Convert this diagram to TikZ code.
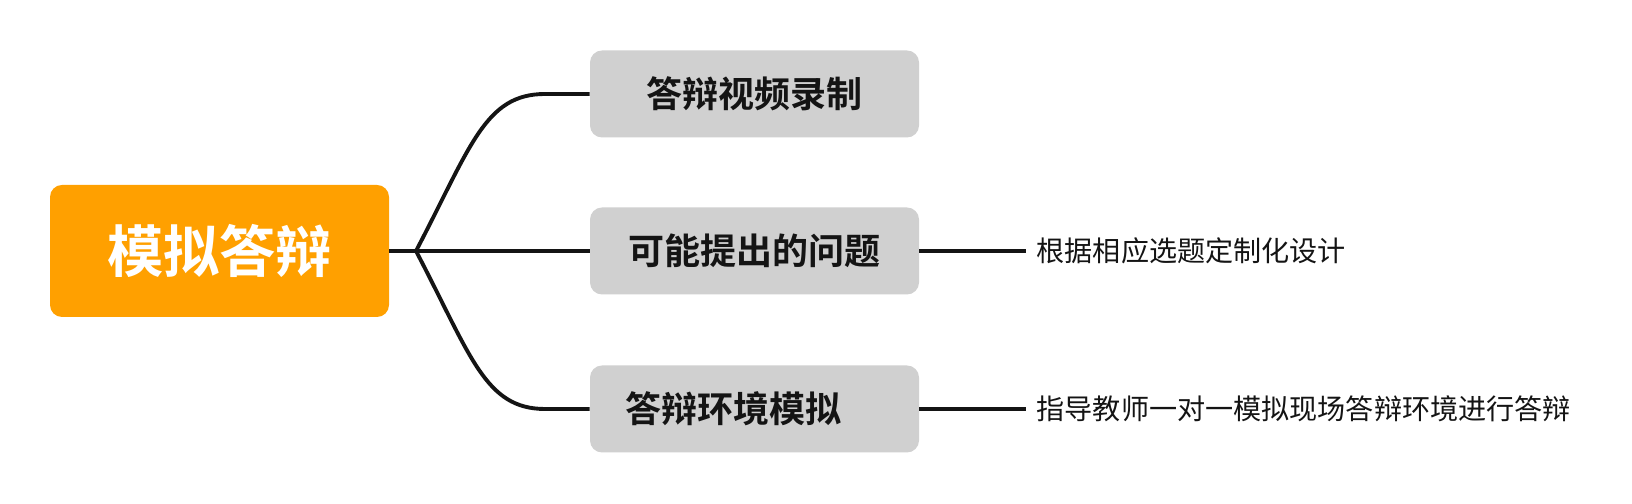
\documentclass[tikz,border=0pt]{standalone}
\usepackage{fontspec}
\usetikzlibrary{positioning,calc}
\newfontfamily\cjk{Noto Sans CJK SC}[BoldFont={Noto Sans CJK SC Bold}]
\definecolor{rootorange}{HTML}{FFA000}
\definecolor{boxgray}{HTML}{D0D0D0}
\definecolor{linedark}{HTML}{141414}
\tikzset{
  rootbox/.style={fill=rootorange, rounded corners=0.24cm, minimum width=6.78cm, minimum height=2.64cm,
    text=white, font=\cjk\bfseries\fontsize{32}{36}\selectfont},
  branchbox/.style={fill=boxgray, rounded corners=0.24cm, minimum width=6.58cm, minimum height=1.74cm,
    text=linedark, font=\cjk\bfseries\fontsize{20.5}{24}\selectfont},
  detail/.style={inner xsep=0.2cm, text=linedark, font=\cjk\fontsize{16}{19}\selectfont},
  link/.style={draw=linedark, line width=2.2pt}
}
\begin{document}
\begin{tikzpicture}
  \useasboundingbox (0,0) rectangle (32.64,10.08);
  % root and branches
  \node[rootbox] (root) at (4.39,5.06) {模拟答辩};
  \node[branchbox] (b1) at (15.09,8.2) {答辩视频录制};
  \node[branchbox] (b2) at (15.09,5.06) {可能提出的问题};
  \node[branchbox] (b3) at (15.09,1.9) {答辩环境模拟\rule{0.84cm}{0pt}};
  \coordinate (j) at (8.32,5.06);
  % details
  \node[detail, anchor=west, right=2.14cm of b2.east, inner xsep=0pt, xshift=0.2cm] (d2) {根据相应选题定制化设计};
  \node[detail, anchor=west, right=2.14cm of b3.east, inner xsep=0pt, xshift=0.2cm] (d3) {指导教师一对一模拟现场答辩环境进行答辩};
  % connectors
  \draw[link] (root.east) -- (j) -- (b2.west);
  \draw[link] (j) .. controls +(1.1,2.1) and +(-1.2,0) .. (10.9,8.2) -- (b1.west);
  \draw[link] (j) .. controls +(1.1,-2.1) and +(-1.2,0) .. (10.9,1.9) -- (b3.west);
  \draw[link] (b2.east) -- ($(d2.west)+(-0.2,0)$);
  \draw[link] (b3.east) -- ($(d3.west)+(-0.2,0)$);
\end{tikzpicture}
\end{document}
